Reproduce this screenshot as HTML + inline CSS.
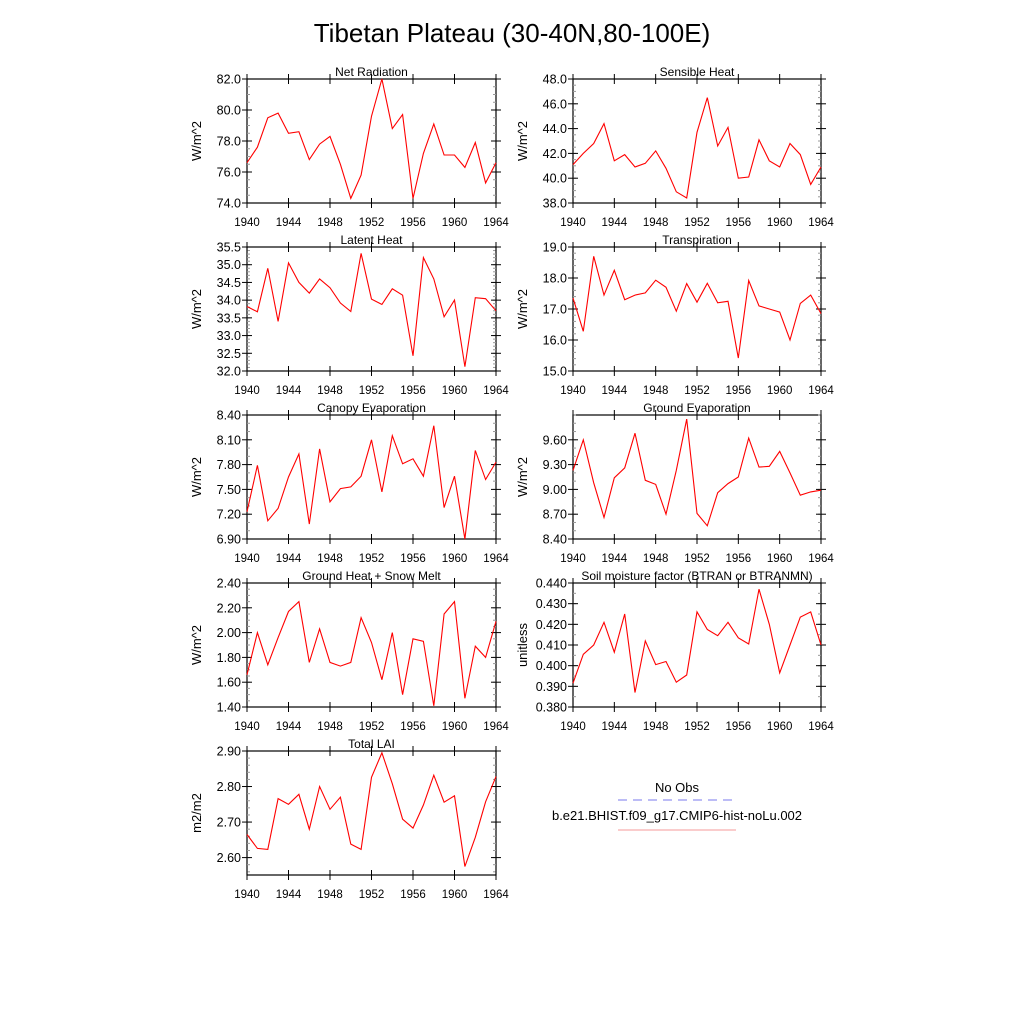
<!DOCTYPE html>
<html><head><meta charset="utf-8"><style>
body{margin:0;background:#fff;}
svg{display:block;font-family:"Liberation Sans",Arial,sans-serif;}
</style></head><body>
<svg id="chart" width="1024" height="1024" viewBox="0 0 1024 1024">
<text x="512" y="42" font-size="26" text-anchor="middle">Tibetan Plateau (30-40N,80-100E)</text>
<g>
<text x="677" y="792" font-size="13" text-anchor="middle">No Obs</text>
<line x1="618" y1="800" x2="736" y2="800" stroke="#7a7aee" stroke-width="1" stroke-dasharray="9,6"/>
<text x="677" y="820" font-size="13" text-anchor="middle">b.e21.BHIST.f09_g17.CMIP6-hist-noLu.002</text>
<line x1="618" y1="830" x2="736" y2="830" stroke="#f49a9a" stroke-width="1"/>
</g>
</svg>
<script>
const years = [1940,1941,1942,1943,1944,1945,1946,1947,1948,1949,1950,1951,1952,1953,1954,1955,1956,1957,1958,1959,1960,1961,1962,1963,1964];
const xTicks = [1940,1944,1948,1952,1956,1960,1964];
const netRad = [76.6,77.6,79.5,79.8,78.5,78.6,76.8,77.8,78.3,76.5,74.3,75.8,79.6,82.0,78.8,79.7,74.3,77.2,79.1,77.1,77.1,76.3,77.9,75.3,76.6];
const sensHeat = [41.1,42.0,42.8,44.4,41.4,41.9,40.9,41.2,42.2,40.8,38.9,38.4,43.7,46.5,42.6,44.1,40.0,40.1,43.1,41.4,40.9,42.8,41.9,39.5,40.9];
const latHeat = [33.82,33.67,34.9,33.4,35.05,34.5,34.2,34.6,34.35,33.92,33.68,35.32,34.03,33.88,34.32,34.14,32.43,35.2,34.6,33.53,34.0,32.12,34.07,34.04,33.7];
const transp = [17.35,16.28,18.7,17.45,18.25,17.3,17.45,17.52,17.93,17.7,16.93,17.82,17.22,17.83,17.2,17.25,15.42,17.92,17.1,17.0,16.9,16.0,17.18,17.45,16.85];
const canopyEvap = [7.23,7.79,7.12,7.27,7.65,7.93,7.08,7.99,7.35,7.51,7.53,7.66,8.1,7.47,8.15,7.81,7.87,7.66,8.27,7.28,7.66,6.9,7.97,7.62,7.83];
const groundEvap = [9.23,9.6,9.08,8.66,9.14,9.26,9.68,9.11,9.06,8.7,9.23,9.85,8.71,8.56,8.96,9.07,9.15,9.62,9.27,9.28,9.46,9.2,8.93,8.97,8.99];
const groundHeat = [1.66,2.0,1.74,1.96,2.17,2.25,1.76,2.03,1.76,1.73,1.76,2.12,1.92,1.62,2.0,1.5,1.95,1.93,1.41,2.15,2.25,1.47,1.89,1.8,2.09];
const soilMoist = [0.3915,0.4055,0.410,0.421,0.4065,0.425,0.387,0.412,0.4005,0.402,0.392,0.3955,0.426,0.4175,0.4145,0.421,0.4135,0.4105,0.437,0.420,0.3965,0.410,0.4235,0.426,0.410];
const totalLai = [2.665,2.626,2.623,2.766,2.750,2.778,2.680,2.800,2.736,2.770,2.638,2.623,2.826,2.895,2.808,2.708,2.683,2.748,2.832,2.756,2.774,2.575,2.657,2.757,2.828];
const ticksNet = [74,76,78,80,82];
const ticksSens = [38,40,42,44,46,48];
const ticksLat = [32,32.5,33,33.5,34,34.5,35,35.5];
const ticksTr = [15,16,17,18,19];
const ticksCan = [6.9,7.2,7.5,7.8,8.1,8.4];
const ticksGe = [8.4,8.7,9.0,9.3,9.6];
const ticksGh = [1.4,1.6,1.8,2.0,2.2,2.4];
const ticksSoil = [0.38,0.39,0.40,0.41,0.42,0.43,0.44];
const ticksLai = [2.6,2.7,2.8,2.9];

const NS='http://www.w3.org/2000/svg';
const svg=document.getElementById('chart');
function mk(tag,attrs,parent){const e=document.createElementNS(NS,tag);for(const k in attrs)e.setAttribute(k,attrs[k]);parent.appendChild(e);return e;}

const panels=[
 {name:'net-radiation',title:'Net Radiation',unit:'W/m^2',data:netRad,ticks:ticksNet,ymin:74,ymax:82,dec:1,col:0,row:0,minor:4},
 {name:'sensible-heat',title:'Sensible Heat',unit:'W/m^2',data:sensHeat,ticks:ticksSens,ymin:38,ymax:48,dec:1,col:1,row:0,minor:4},
 {name:'latent-heat',title:'Latent Heat',unit:'W/m^2',data:latHeat,ticks:ticksLat,ymin:32,ymax:35.5,dec:1,col:0,row:1,minor:5},
 {name:'transpiration',title:'Transpiration',unit:'W/m^2',data:transp,ticks:ticksTr,ymin:15,ymax:19,dec:1,col:1,row:1,minor:5},
 {name:'canopy-evaporation',title:'Canopy Evaporation',unit:'W/m^2',data:canopyEvap,ticks:ticksCan,ymin:6.9,ymax:8.4,dec:2,col:0,row:2,minor:3},
 {name:'ground-evaporation',title:'Ground Evaporation',unit:'W/m^2',data:groundEvap,ticks:ticksGe,ymin:8.4,ymax:9.9,dec:2,col:1,row:2,minor:3},
 {name:'ground-heat-snow-melt',title:'Ground Heat + Snow Melt',unit:'W/m^2',data:groundHeat,ticks:ticksGh,ymin:1.4,ymax:2.4,dec:2,col:0,row:3,minor:4},
 {name:'soil-moisture-factor',title:'Soil moisture factor (BTRAN or BTRANMN)',unit:'unitless',data:soilMoist,ticks:ticksSoil,ymin:0.38,ymax:0.44,dec:3,col:1,row:3,minor:2},
 {name:'total-lai',title:'Total LAI',unit:'m2/m2',data:totalLai,ticks:ticksLai,ymin:2.551,ymax:2.9,dec:2,col:0,row:4,minor:5}
];
const colX=[[247,496],[573,821]];
panels.forEach(p=>{
 const x0=colX[p.col][0],x1=colX[p.col][1];
 const y0=79+p.row*168,y1=y0+124;
 const g=mk('g',{},svg);
 
 
 const xs=v=>x0+(v-years[0])/(years[years.length-1]-years[0])*(x1-x0);
 const ys=v=>y1-(v-p.ymin)/(p.ymax-p.ymin)*(y1-y0);
 const fr=mk('rect',{x:x0,y:y0,width:x1-x0,height:y1-y0,fill:'none',stroke:'#000','stroke-width':1.2},g);
 
 
 // minor y ticks
 const step=p.ticks[1]-p.ticks[0];
 for(let v=p.ticks[0]-step;v<=p.ymax+1e-9;v+=step/p.minor){
  if(v<p.ymin-1e-9)continue;
  const y=ys(v);
  mk('line',{x1:x0,y1:y,x2:x0+3,y2:y,stroke:'#999','stroke-width':1},g);
  mk('line',{x1:x1,y1:y,x2:x1-3,y2:y,stroke:'#999','stroke-width':1},g);
 }
 p.ticks.forEach(v=>{
  const y=ys(v);
  mk('line',{x1:x0-5,y1:y,x2:x0+5,y2:y,stroke:'#000','stroke-width':1},g);
  mk('line',{x1:x1-5,y1:y,x2:x1+5,y2:y,stroke:'#000','stroke-width':1},g);
  const t=mk('text',{x:x0-6,y:y+4.5,'font-size':12.5,'text-anchor':'end'},g);
  t.textContent=v.toFixed(p.dec);
  
  
 });
 xTicks.forEach(v=>{
  const x=xs(v);
  mk('line',{x1:x,y1:y1-5,x2:x,y2:y1+5,stroke:'#000','stroke-width':1},g);
  mk('line',{x1:x,y1:y0-5,x2:x,y2:y0+5,stroke:'#000','stroke-width':1},g);
  const t=mk('text',{x:x,y:y1+23,'font-size':11.5,'text-anchor':'middle'},g);
  t.textContent=v;
  
  
 });
 const tt=mk('text',{x:(x0+x1)/2,y:y0-3,'font-size':12,'text-anchor':'middle'},g);
 tt.textContent=p.title;
 
 
 const cy=(y0+y1)/2, ax=x0-46;
 const yt=mk('text',{x:ax,y:cy,'font-size':13,'text-anchor':'middle',transform:`rotate(-90 ${ax} ${cy})`},g);
 yt.textContent=p.unit;
 
 
 const pts=p.data.map((v,i)=>xs(years[i]).toFixed(1)+','+ys(v).toFixed(1)).join(' ');
 const pl=mk('polyline',{points:pts,fill:'none',stroke:'#ff0000','stroke-width':1.1},g);
 
 
});
</script>
</body></html>
